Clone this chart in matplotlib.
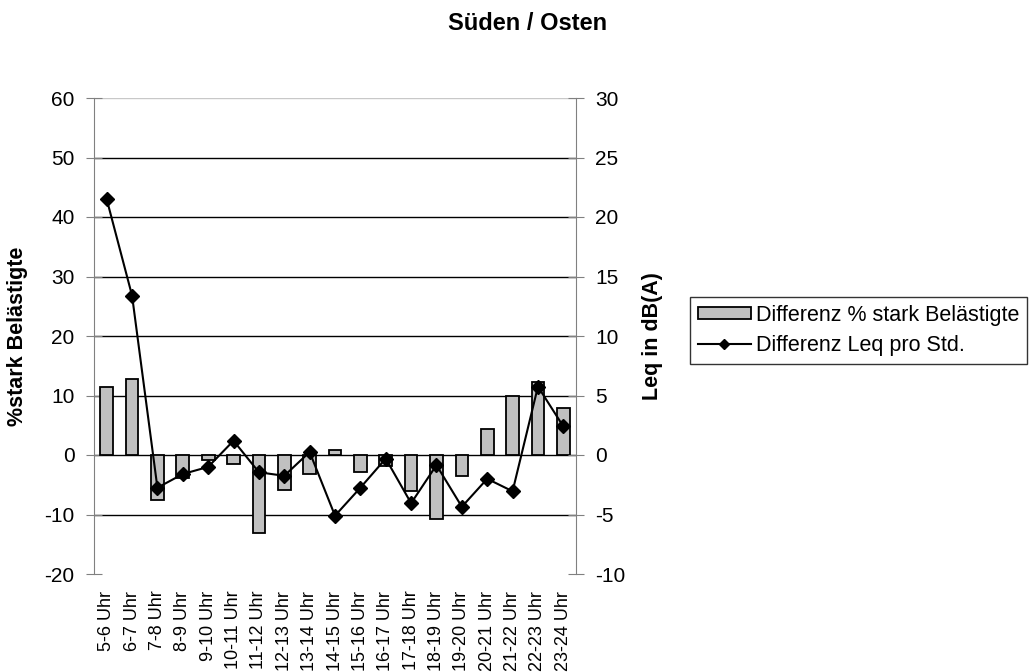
import matplotlib
matplotlib.use("Agg")
import matplotlib.pyplot as plt
import numpy as np

plt.rcParams['font.family'] = ['Liberation Sans', 'DejaVu Sans']
plt.rcParams['axes.unicode_minus'] = False

stunden = ["5-6 Uhr", "6-7 Uhr", "7-8 Uhr", "8-9 Uhr", "9-10 Uhr", "10-11 Uhr",
           "11-12 Uhr", "12-13 Uhr", "13-14 Uhr", "14-15 Uhr", "15-16 Uhr",
           "16-17 Uhr", "17-18 Uhr", "18-19 Uhr", "19-20 Uhr", "20-21 Uhr",
           "21-22 Uhr", "22-23 Uhr", "23-24 Uhr"]
diff_belaestigte = [11.5, 12.7, -7.6, -3.9, -0.9, -1.5, -13.1, -5.8, -3.2, 0.9,
                    -2.9, -1.8, -6.0, -10.8, -3.5, 4.4, 10.0, 12.3, 7.9]
diff_leq = [21.5, 13.4, -2.75, -1.6, -1.0, 1.2, -1.45, -1.75, 0.25, -5.1,
            -2.75, -0.3, -4.05, -0.85, -4.35, -2.0, -3.05, 5.75, 2.4]

x = np.arange(len(stunden))

fig = plt.figure(figsize=(10.34, 6.72), dpi=100)
ax = fig.add_axes([94 / 1034, 1 - 574 / 672, 482 / 1034, 476 / 672])
ax2 = ax.twinx()

# gridlines (the top one lighter, like Excel's plot area edge)
for v in range(-10, 60, 10):
    ax.axhline(v, color='black', lw=1.0, zorder=0)
ax.axhline(60, color='#c8c8c8', lw=1.0, zorder=0)

bars = ax.bar(x, diff_belaestigte, width=0.5, color='#c0c0c0',
              edgecolor='black', lw=1.3, zorder=2,
              label='Differenz % stark Belästigte')
line, = ax2.plot(x, diff_leq, color='black', lw=1.5, marker='D',
                 markersize=7, label='Differenz Leq pro Std.')

ax.set_xlim(-0.5, len(stunden) - 0.5)
ax.set_ylim(-20, 60)
ax2.set_ylim(-10, 30)
ax.set_yticks(range(-20, 61, 10))
ax2.set_yticks(range(-10, 31, 5))

ax.set_xticks(x)
ax.set_xticklabels(stunden, rotation=90, fontsize=13)
ax.tick_params(axis='x', length=0, pad=12)

for a in (ax, ax2):
    for s in ('top', 'bottom'):
        a.spines[s].set_visible(False)
    a.spines['left'].set_color('#808080')
    a.spines['right'].set_color('#808080')
ax.spines['right'].set_visible(False)
ax2.spines['left'].set_visible(False)

ax.tick_params(axis='y', direction='inout', length=12, color='#808080',
               labelsize=15, pad=8)
ax2.tick_params(axis='y', direction='inout', length=12, color='#808080',
                labelsize=15, pad=8)

ax.set_ylabel('%stark Belästigte', fontsize=15.5, fontweight='bold', labelpad=12)
ax2.set_ylabel('Leq in dB(A)', fontsize=15.5, fontweight='bold', labelpad=12)

fig.text(528 / 1034, 1 - 23 / 672, 'Süden / Osten', fontsize=17,
         fontweight='bold', ha='center', va='center')

leg = fig.legend([bars, line], [bars.get_label(), line.get_label()],
                 loc='upper left', bbox_to_anchor=(690 / 1034, 1 - 297 / 672),
                 fontsize=15.5, frameon=True, fancybox=False, edgecolor='black',
                 handlelength=2.5, handleheight=0.5, handletextpad=0.2,
                 borderpad=0.35, labelspacing=0.45, borderaxespad=0,
                 markerscale=0.8)
leg.get_frame().set_linewidth(1.0)

fig.savefig('out.png', dpi=100)
